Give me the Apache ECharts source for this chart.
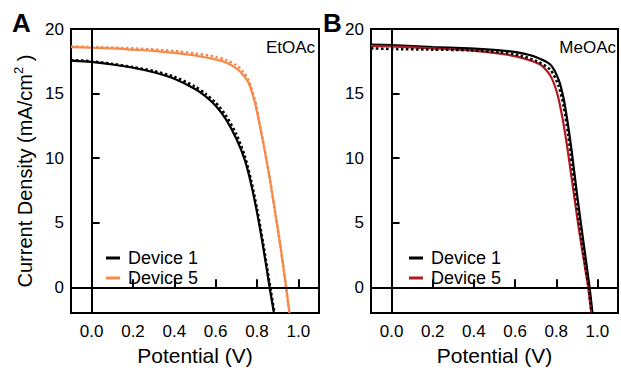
<!DOCTYPE html>
<html>
<head>
<meta charset="utf-8">
<script src="https://cdn.jsdelivr.net/npm/echarts@6/dist/echarts.min.js"></script>
<style>
  html, body { margin: 0; padding: 0; background: #fff; }
  #chart { width: 621px; height: 371px; }
</style>
</head>
<body>
<div id="chart"></div>
<script>
// Axis labels / ticks
const xLabels = [0, 0.2, 0.4, 0.6, 0.8, 1.0]
const xTicks = [0.2, 0.4, 0.6, 0.8, 1.0]
const yLabels = [0, 5, 10, 15, 20]
const yTicks = [5, 10, 15]

// Panel A (EtOAc) - Device 1 solid
const aDev1V = [-0.1, 0, 0.1, 0.2, 0.3, 0.4, 0.5, 0.55, 0.6, 0.65, 0.7, 0.74, 0.77, 0.8, 0.83, 0.86, 0.882]
const aDev1J = [17.55, 17.45, 17.25, 17.0, 16.65, 16.15, 15.35, 14.8, 14.05, 13.0, 11.5, 9.9, 8.1, 5.8, 3.1, 0.1, -2]
// Panel A - Device 1 dotted
const aDev1rV = [-0.1, 0, 0.1, 0.2, 0.3, 0.4, 0.5, 0.55, 0.6, 0.65, 0.7, 0.74, 0.77, 0.8, 0.83, 0.86, 0.885]
const aDev1rJ = [17.6, 17.5, 17.3, 17.05, 16.75, 16.3, 15.55, 15.0, 14.3, 13.3, 11.85, 10.2, 8.4, 6.1, 3.4, 0.4, -2]
// Panel A - Device 5 solid
const aDev5V = [-0.1, 0, 0.1, 0.2, 0.3, 0.4, 0.5, 0.6, 0.65, 0.7, 0.73, 0.76, 0.79, 0.81, 0.83, 0.86, 0.89, 0.915, 0.94, 0.957]
const aDev5J = [18.6, 18.55, 18.5, 18.4, 18.3, 18.15, 17.95, 17.65, 17.4, 16.95, 16.5, 15.8, 14.3, 12.8, 11.2, 8.6, 5.6, 3.0, 0.1, -2]
// Panel A - Device 5 dotted
const aDev5rV = [-0.1, 0, 0.2, 0.4, 0.5, 0.6, 0.65, 0.7, 0.73, 0.76, 0.79, 0.81, 0.83, 0.86, 0.89, 0.915, 0.94, 0.957]
const aDev5rJ = [18.65, 18.6, 18.5, 18.3, 18.1, 17.85, 17.6, 17.2, 16.75, 16.0, 14.5, 12.9, 11.25, 8.6, 5.6, 3.0, 0.1, -2]

// Panel B (MeOAc) - Device 1 solid
const bDev1V = [-0.1, 0, 0.2, 0.38, 0.527, 0.624, 0.706, 0.771, 0.811, 0.836, 0.857, 0.877, 0.901, 0.933, 0.962, 0.976]
const bDev1J = [18.8, 18.75, 18.6, 18.5, 18.35, 18.15, 17.8, 17.25, 16.1, 14.6, 12.6, 10.3, 7.2, 3.4, 0.0, -2]
// Panel B - Device 1 dotted
const bDev1rV = [-0.1, 0, 0.2, 0.38, 0.527, 0.624, 0.706, 0.771, 0.811, 0.836, 0.857, 0.877, 0.901, 0.933, 0.958, 0.972]
const bDev1rJ = [18.5, 18.45, 18.4, 18.35, 18.2, 17.95, 17.5, 16.85, 15.6, 14.0, 11.9, 9.4, 6.4, 2.6, 0.0, -2]
// Panel B - Device 5 solid
const bDev5V = [-0.1, 0, 0.2, 0.38, 0.527, 0.624, 0.722, 0.771, 0.803, 0.828, 0.852, 0.877, 0.909, 0.95, 0.955, 0.97]
const bDev5J = [18.7, 18.65, 18.5, 18.35, 18.1, 17.8, 17.25, 16.4, 15.1, 13.3, 11.0, 8.2, 4.6, 0.5, 0.0, -2]

const black = '#000000'
const orange = '#f58a4b'
const red = '#b0191e'
const font = 'Liberation Sans, Arial, Helvetica, sans-serif'

const pairs = (xs, ys) => xs.map((x, i) => [x, ys[i]])

function xAxisFor(gridIndex, withName) {
  return {
    type: 'value',
    gridIndex,
    min: -0.1,
    max: 1.1,
    name: withName ? 'Potential (V)' : '',
    nameLocation: 'middle',
    nameGap: 30,
    nameTextStyle: { fontSize: 21, color: black, fontFamily: font },
    axisLine: { show: false },
    splitLine: { show: false },
    axisTick: {
      inside: true, length: 8, customValues: xTicks,
      lineStyle: { color: black, width: 2 }
    },
    axisLabel: {
      customValues: xLabels, margin: 10,
      fontSize: 17, color: black, fontFamily: font,
      formatter: v => v.toFixed(1)
    }
  }
}

function yAxisFor(gridIndex, withName) {
  return {
    type: 'value',
    gridIndex,
    min: -2,
    max: 20,
    name: withName ? 'Current Density (mA/cm{sup|2} )' : '',
    nameLocation: 'middle',
    nameGap: 34,
    nameTextStyle: {
      fontSize: 20, color: black, fontFamily: font,
      rich: { sup: { fontSize: 13, color: black, fontFamily: font, padding: [0, 0, 12, 0] } }
    },
    axisLine: { show: false },
    splitLine: { show: false },
    axisTick: {
      inside: true, length: 8, customValues: yTicks,
      lineStyle: { color: black, width: 2 }
    },
    axisLabel: {
      customValues: yLabels, margin: 7,
      fontSize: 17, color: black, fontFamily: font
    }
  }
}

function curve(name, idx, data, color, dotted) {
  return {
    name,
    type: 'line',
    xAxisIndex: idx,
    yAxisIndex: idx,
    data,
    symbol: 'none',
    smooth: 0.25,
    silent: true,
    z: dotted ? 3 : 2,
    lineStyle: { color, width: dotted ? 2.5 : 2.2, type: dotted ? 'dotted' : 'solid' },
    itemStyle: { color }
  }
}

const zeroLines = {
  silent: true,
  symbol: 'none',
  label: { show: false },
  lineStyle: { color: black, width: 2, type: 'solid' },
  data: [{ xAxis: 0 }, { yAxis: 0 }]
}

const s1a = curve('Device 1', 0, pairs(aDev1V, aDev1J), black, false)
s1a.markLine = zeroLines
const s1b = curve('Device 1', 1, pairs(bDev1V, bDev1J), black, false)
s1b.markLine = zeroLines

const chart = echarts.init(document.getElementById('chart'), null, { renderer: 'svg' })

chart.setOption({
  animation: false,
  textStyle: { fontFamily: font },
  grid: [
    { left: 71, top: 29, width: 248, height: 289, show: true, borderColor: black, borderWidth: 2 },
    { left: 371, top: 29, width: 247, height: 289, show: true, borderColor: black, borderWidth: 2 }
  ],
  xAxis: [xAxisFor(0, true), xAxisFor(1, true)],
  yAxis: [yAxisFor(0, true), yAxisFor(1, false)],
  legend: [
    {
      orient: 'vertical', left: 101, top: 244, itemGap: 2,
      itemWidth: 14, itemHeight: 3, icon: 'rect',
      textStyle: { fontSize: 18, color: black, fontFamily: font, padding: [0, 0, 0, 3] },
      data: [
        { name: 'Device 1', itemStyle: { color: black } },
        { name: 'Device 5', itemStyle: { color: orange } }
      ],
      selectedMode: false
    },
    {
      orient: 'vertical', left: 404, top: 244, itemGap: 2,
      itemWidth: 14, itemHeight: 3, icon: 'rect',
      textStyle: { fontSize: 18, color: black, fontFamily: font, padding: [0, 0, 0, 3] },
      data: [
        { name: 'Device 1', itemStyle: { color: black } },
        { name: 'Device 5', itemStyle: { color: red } }
      ],
      selectedMode: false
    }
  ],
  graphic: [
    { type: 'text', left: 12, top: 10, style: { text: 'A', font: 'bold 26px ' + font, fill: black } },
    { type: 'text', left: 323, top: 10, style: { text: 'B', font: 'bold 26px ' + font, fill: black } },
    { type: 'text', right: 306, top: 39, style: { text: 'EtOAc', font: '17px ' + font, fill: black } },
    { type: 'text', right: 5, top: 39, style: { text: 'MeOAc', font: '17px ' + font, fill: black } }
  ],
  series: [
    s1a,
    curve('Device 1 reverse', 0, pairs(aDev1rV, aDev1rJ), black, true),
    curve('Device 5', 0, pairs(aDev5V, aDev5J), orange, false),
    curve('Device 5 reverse', 0, pairs(aDev5rV, aDev5rJ), orange, true),
    s1b,
    curve('Device 5', 1, pairs(bDev5V, bDev5J), red, false),
    curve('Device 1 reverse', 1, pairs(bDev1rV, bDev1rJ), black, true)
  ]
})
</script>
</body>
</html>
